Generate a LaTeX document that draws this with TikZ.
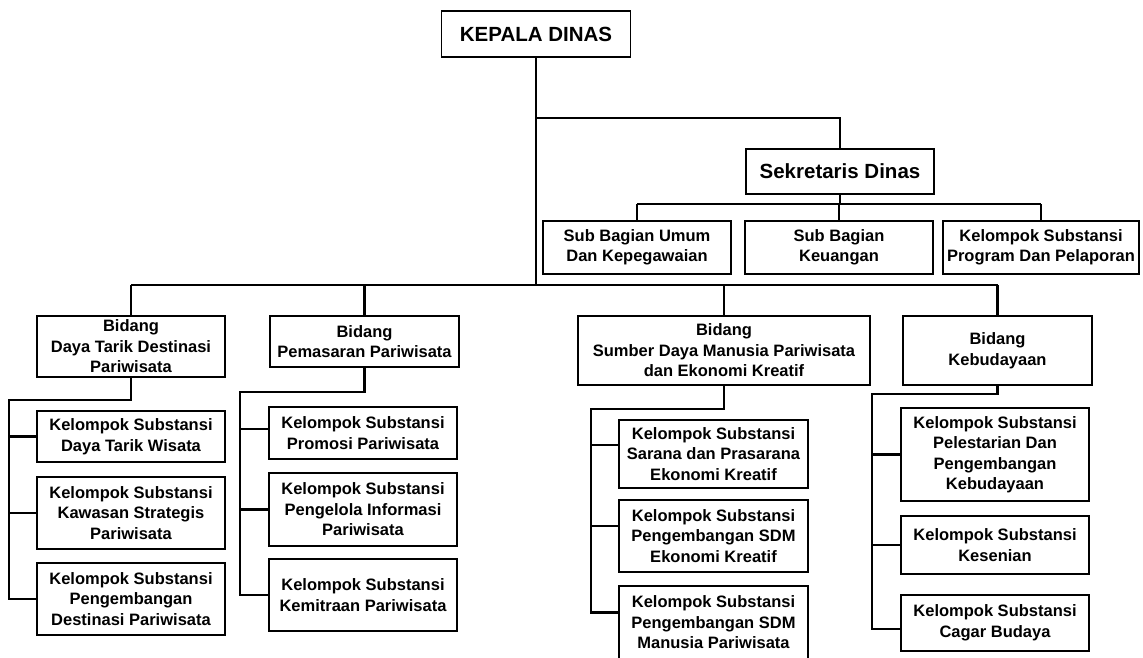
\documentclass[tikz,border=0pt]{standalone}
\usepackage{fontspec}
\setmainfont{Liberation Sans}

\begin{document}
\begin{tikzpicture}[x=1pt, y=-1pt,
    box/.style={draw, line width=1.5pt, inner sep=0pt, align=center,
      font=\fontsize{16.5}{20.5}\selectfont\bfseries},
    head/.style={box, font=\fontsize{20.5}{24}\selectfont\bfseries},
    kid/.style={box, minimum width=188pt},
    link/.style={line width=2.2pt}]
  \useasboundingbox (0,0) rectangle (1143,657);
  \clip (0,0) rectangle (1143,657);

  % pimpinan
  \node (KD) [head, minimum width=189pt, minimum height=46pt] at (536,34) {KEPALA DINAS};
  \node (SD) [head, minimum width=188pt, minimum height=45pt] at (840,171.5) {Sekretaris Dinas};

  % sekretariat
  \node (SB1) [kid, minimum height=53pt] at (637,247.5) {Sub Bagian Umum\\Dan Kepegawaian};
  \node (SB2) [kid, minimum height=53pt] at (839,247.5) {Sub Bagian\\Keuangan};
  \node (SB3) [kid, minimum width=196pt, minimum height=53pt] at (1041,247.5) {Kelompok Substansi\\Program Dan Pelaporan};

  % bidang
  \node (B1) [kid, minimum height=61pt] at (131,346.5) {Bidang\\Daya Tarik Destinasi\\Pariwisata};
  \node (B2) [kid, minimum width=189pt, minimum height=51pt] at (364.5,341.5) {Bidang\\Pemasaran Pariwisata};
  \node (B3) [kid, minimum width=292pt, minimum height=69pt] at (724,350.5) {Bidang\\Sumber Daya Manusia Pariwisata\\dan Ekonomi Kreatif};
  \node (B4) [kid, minimum width=189pt, minimum height=69pt] at (997.5,350.5) {Bidang\\Kebudayaan};

  % kelompok substansi
  \node (K11) [kid, minimum height=51pt] at (131,436.5) {Kelompok Substansi\\Daya Tarik Wisata};
  \node (K12) [kid, minimum height=72pt] at (131,513) {Kelompok Substansi\\Kawasan Strategis\\Pariwisata};
  \node (K13) [kid, minimum height=72pt] at (131,599) {Kelompok Substansi\\Pengembangan\\Destinasi Pariwisata};

  \node (K21) [kid, minimum height=52pt] at (363,433) {Kelompok Substansi\\Promosi Pariwisata};
  \node (K22) [kid, minimum height=73pt] at (363,509.5) {Kelompok Substansi\\Pengelola Informasi\\Pariwisata};
  \node (K23) [kid, minimum height=72pt] at (363,595) {Kelompok Substansi\\Kemitraan Pariwisata};

  \node (K31) [kid, minimum width=189pt, minimum height=68pt] at (713.5,454) {Kelompok Substansi\\Sarana dan Prasarana\\Ekonomi Kreatif};
  \node (K32) [kid, minimum width=189pt, minimum height=72pt] at (713.5,536) {Kelompok Substansi\\Pengembangan SDM\\Ekonomi Kreatif};
  \node (K33) [kid, minimum width=189pt, minimum height=73pt] at (713.5,622.5) {Kelompok Substansi\\Pengembangan SDM\\Manusia Pariwisata};

  \node (K41) [kid, minimum height=93pt] at (995,454.5) {Kelompok Substansi\\Pelestarian Dan\\Pengembangan\\Kebudayaan};
  \node (K42) [kid, minimum height=58pt] at (995,545) {Kelompok Substansi\\Kesenian};
  \node (K43) [kid, minimum height=56pt] at (995,623) {Kelompok Substansi\\Cagar Budaya};

  % garis komando
  \coordinate (J1) at (536,118);
  \coordinate (J2) at (536,285);
  \coordinate (J3) at (840,204);
  \draw[link] (KD.south) -- (KD.south |- J2);
  \draw[link] (KD.south |- J1) -| (SD.north);
  \draw[link] (SD.south) -- (SD.south |- J3);
  \draw[link] (SB1.north |- J3) -- (SB3.north |- J3);
  \foreach \n in {SB1,SB2,SB3}
    \draw[link] (\n.north |- J3) -- (\n.north);
  \draw[link] (B1.north |- J2) -- (B4.north |- J2);
  \foreach \n in {B1,B2,B3,B4}
    \draw[link] (\n.north |- J2) -- (\n.north);

  % rel ke kelompok substansi
  \coordinate (R1) at (9,400);
  \coordinate (R2) at (240,392);
  \coordinate (R3) at (591,409);
  \coordinate (R4) at (872,394);
  \coordinate (T21) at ([yshift=4pt]K21.west);
  \coordinate (T31) at ([yshift=9pt]K31.west);
  \coordinate (T32) at ([yshift=10pt]K32.west);
  \coordinate (T33) at ([yshift=10pt]K33.west);
  \coordinate (T43) at ([yshift=-6pt]K43.west);

  \draw[link] (B1.south) |- (R1) |- (K13.west);
  \foreach \k in {K11,K12}
    \draw[link] (R1 |- \k.west) -- (\k.west);

  \draw[link] (B2.south) |- (R2) |- (K23.west);
  \foreach \k in {T21,K22.west}
    \draw[link] (R2 |- \k) -- (\k);

  \draw[link] (B3.south) |- (R3) |- (T33);
  \foreach \k in {T31,T32}
    \draw[link] (R3 |- \k) -- (\k);

  \draw[link] (B4.south) |- (R4) |- (T43);
  \foreach \k in {K41.west,K42.west}
    \draw[link] (R4 |- \k) -- (\k);
\end{tikzpicture}
\end{document}
